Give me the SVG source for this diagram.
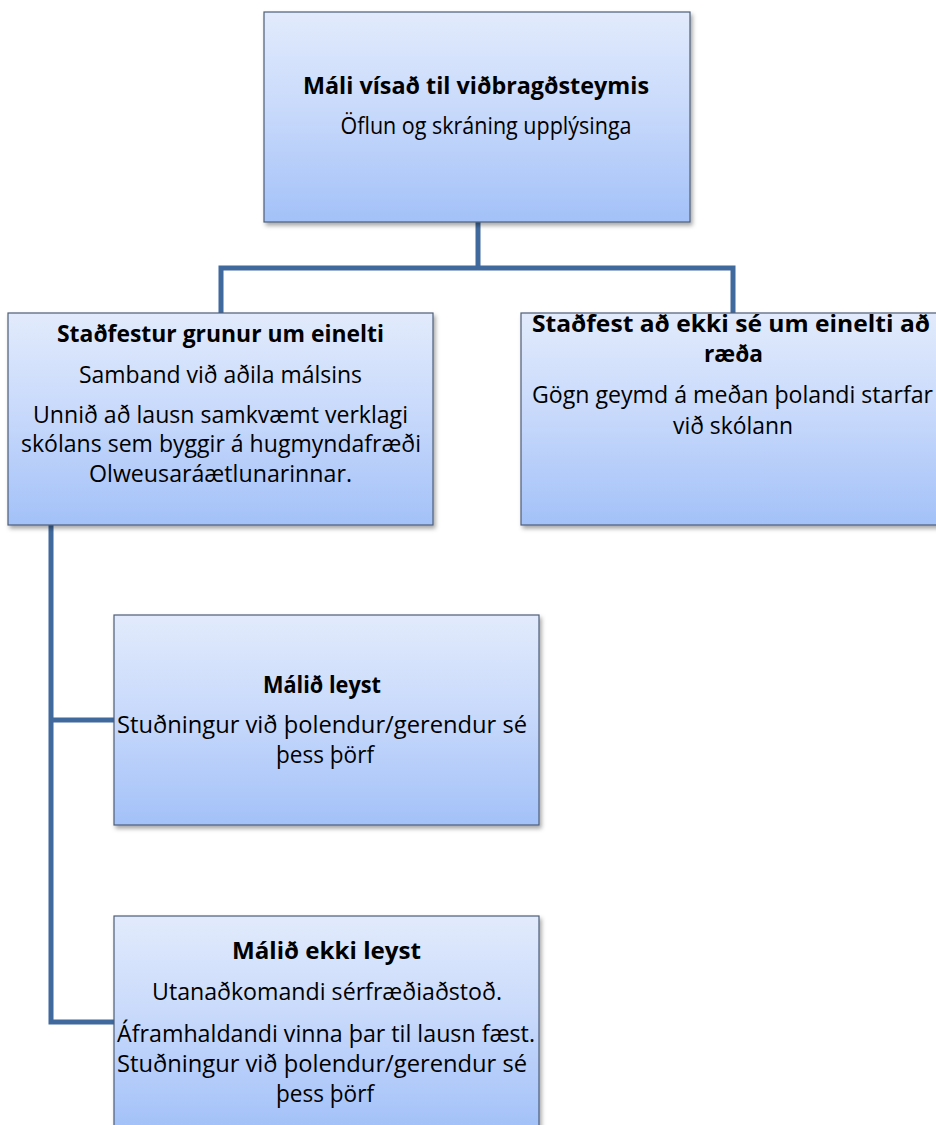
<svg xmlns="http://www.w3.org/2000/svg" width="936" height="1125" viewBox="0 0 936 1125">
<defs>
<linearGradient id="boxfill" x1="0" y1="0" x2="0" y2="1">
<stop offset="0" stop-color="#E2EBFC"/>
<stop offset="0.5" stop-color="#C6D8FB"/>
<stop offset="1" stop-color="#A3C1F8"/>
</linearGradient>
<filter id="shadow" x="-5%" y="-5%" width="112%" height="115%">
<feDropShadow dx="2" dy="3" stdDeviation="2" flood-color="#000" flood-opacity="0.35"/>
</filter>
</defs>
<style>
.box{fill:url(#boxfill);stroke:#4E5E78;stroke-width:1.2;filter:url(#shadow)}
.t{font-family:"Open Sans","Liberation Sans",sans-serif;font-size:23px;fill:#000;text-anchor:middle}
.b{font-weight:bold}
.conn{fill:none;stroke:#40699D;stroke-width:5;stroke-linejoin:miter}
</style>
<rect width="936" height="1125" fill="#fff"/>
<g id="connectors">
<path class="conn" d="M478,222 V268"/>
<path class="conn" d="M221,313 V268 H733 V313"/>
<path class="conn" d="M51,525 V1022 H114"/>
<path class="conn" d="M51,720 H114"/>
</g>
<g id="node-top">
<rect class="box" x="264" y="12" width="426" height="210"/>
<text class="t b" x="476" y="94" textLength="346" lengthAdjust="spacingAndGlyphs">Máli vísað til viðbragðsteymis</text>
<text class="t" x="486" y="134" textLength="291" lengthAdjust="spacingAndGlyphs">Öflun og skráning upplýsinga</text>
</g>
<g id="node-stadfestur">
<rect class="box" x="8" y="313" width="425" height="212"/>
<text class="t b" x="220.5" y="342" textLength="327" lengthAdjust="spacingAndGlyphs">Staðfestur grunur um einelti</text>
<text class="t" x="220.5" y="383" textLength="283" lengthAdjust="spacingAndGlyphs">Samband við aðila málsins</text>
<text class="t" x="220.5" y="423" textLength="375" lengthAdjust="spacingAndGlyphs">Unnið að lausn samkvæmt verklagi</text>
<text class="t" x="221" y="452" textLength="400" lengthAdjust="spacingAndGlyphs">skólans sem byggir á hugmyndafræði</text>
<text class="t" x="220.5" y="482" textLength="263" lengthAdjust="spacingAndGlyphs">Olweusaráætlunarinnar.</text>
</g>
<g id="node-ekki-einelti">
<rect class="box" x="521" y="313" width="425" height="212"/>
<text class="t b" x="731" y="332" textLength="398" lengthAdjust="spacingAndGlyphs">Staðfest að ekki sé um einelti að</text>
<text class="t b" x="733.5" y="362" textLength="59" lengthAdjust="spacingAndGlyphs">ræða</text>
<text class="t" x="732.5" y="403" textLength="401" lengthAdjust="spacingAndGlyphs">Gögn geymd á meðan þolandi starfar</text>
<text class="t" x="733" y="434" textLength="120" lengthAdjust="spacingAndGlyphs">við skólann</text>
</g>
<g id="node-leyst">
<rect class="box" x="114" y="615" width="425" height="210"/>
<text class="t b" x="322" y="693" textLength="118" lengthAdjust="spacingAndGlyphs">Málið leyst</text>
<text class="t" x="322" y="733" textLength="410" lengthAdjust="spacingAndGlyphs">Stuðningur við þolendur/gerendur sé</text>
<text class="t" x="325" y="763" textLength="98" lengthAdjust="spacingAndGlyphs">þess þörf</text>
</g>
<g id="node-ekki-leyst">
<rect class="box" x="114" y="916" width="425" height="212"/>
<text class="t b" x="326.5" y="959" textLength="189" lengthAdjust="spacingAndGlyphs">Málið ekki leyst</text>
<text class="t" x="327" y="1000" textLength="350" lengthAdjust="spacingAndGlyphs">Utanaðkomandi sérfræðiaðstoð.</text>
<text class="t" x="326" y="1042" textLength="418" lengthAdjust="spacingAndGlyphs">Áframhaldandi vinna þar til lausn fæst.</text>
<text class="t" x="322" y="1072" textLength="410" lengthAdjust="spacingAndGlyphs">Stuðningur við þolendur/gerendur sé</text>
<text class="t" x="325" y="1102" textLength="98" lengthAdjust="spacingAndGlyphs">þess þörf</text>
</g>
</svg>
